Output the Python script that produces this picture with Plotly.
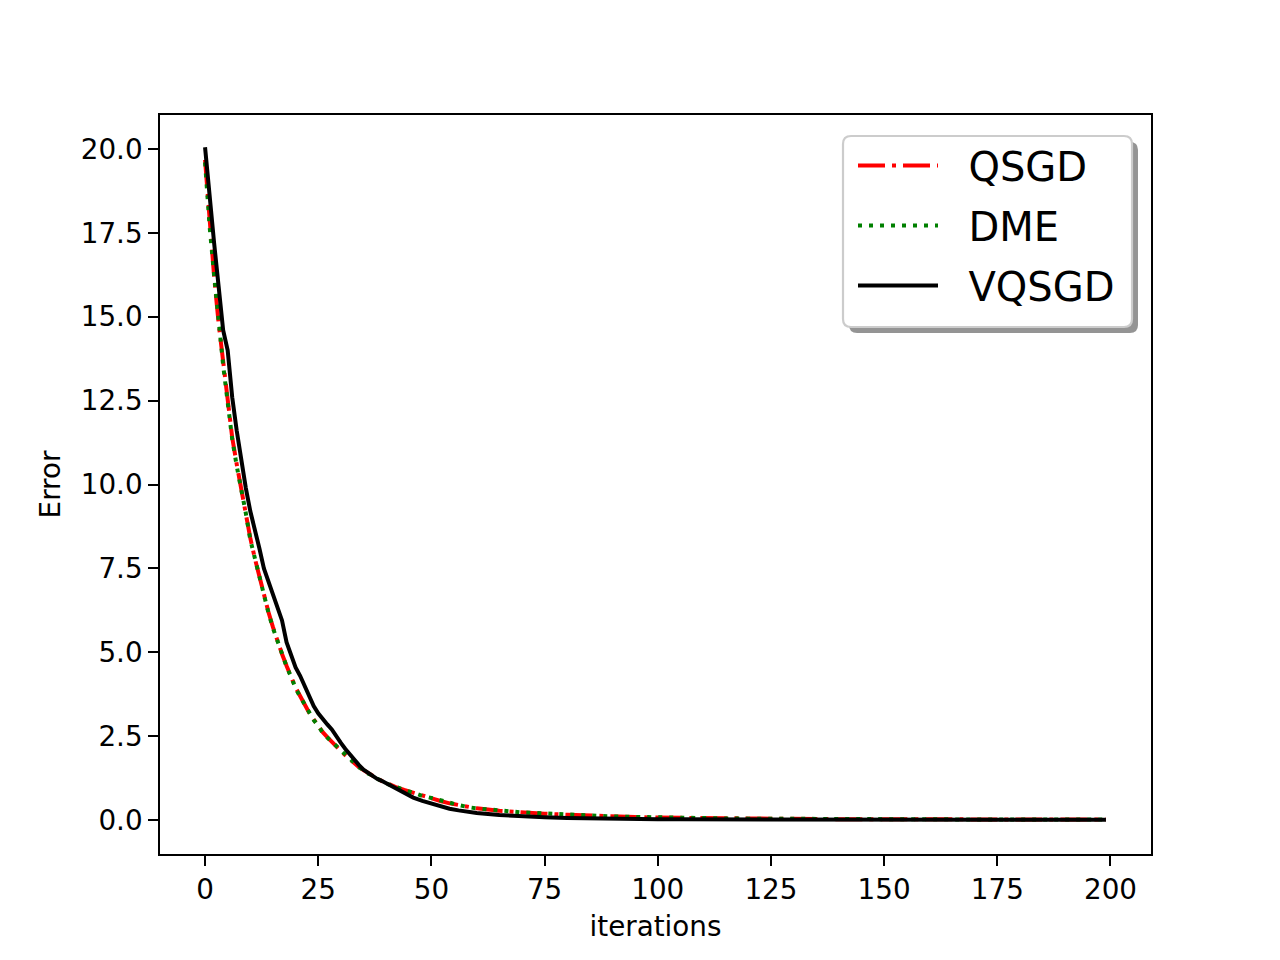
import plotly.graph_objects as go

# ---------------- data ----------------
iterations = list(range(0, 41)) + list(range(42, 61, 2)) + list(range(65, 196, 5)) + [199]

qsgd = [19.67, 17.8, 16.2, 14.8, 13.6, 12.4, 11.4, 10.6, 9.85, 9.1,
        8.4, 7.8, 7.25, 6.7, 6.2, 5.75, 5.3, 4.95, 4.6, 4.25,
        3.95, 3.7, 3.42, 3.2, 3.0, 2.8, 2.62, 2.47, 2.32, 2.2,
        2.06, 1.93, 1.8, 1.69, 1.58, 1.49, 1.40, 1.32, 1.24, 1.17, 1.10,
        0.99, 0.9, 0.81, 0.73, 0.65, 0.57, 0.5, 0.44, 0.39, 0.35,
        0.28, 0.23, 0.19, 0.16, 0.13, 0.11, 0.09, 0.075, 0.065, 0.056,
        0.049, 0.043, 0.038, 0.034, 0.031, 0.028, 0.026, 0.024, 0.022, 0.021,
        0.02, 0.019, 0.018, 0.017, 0.016, 0.016, 0.015,
        0.015]

dme = [19.6, 17.7, 16.25, 14.75, 13.55, 12.45, 11.35, 10.55, 9.9, 9.15,
       8.35, 7.8, 7.2, 6.72, 6.18, 5.72, 5.32, 4.92, 4.58, 4.27,
       3.93, 3.68, 3.44, 3.18, 2.98, 2.81, 2.6, 2.46, 2.33, 2.18,
       2.05, 1.94, 1.79, 1.7, 1.57, 1.5, 1.39, 1.33, 1.23, 1.17, 1.09,
       1.0, 0.89, 0.82, 0.72, 0.66, 0.58, 0.5, 0.45, 0.39, 0.35,
       0.29, 0.23, 0.2, 0.16, 0.13, 0.11, 0.095, 0.078, 0.066, 0.057,
       0.05, 0.044, 0.039, 0.035, 0.031, 0.029, 0.026, 0.024, 0.023, 0.021,
       0.02, 0.019, 0.018, 0.017, 0.017, 0.016, 0.015,
       0.015]

vqsgd = [20.05, 18.5, 17.2, 15.9, 14.6, 14.0, 12.6, 11.6, 10.7, 9.9,
         9.2, 8.7, 8.1, 7.5, 7.1, 6.7, 6.3, 5.95, 5.3, 4.9,
         4.55, 4.3, 4.0, 3.7, 3.4, 3.18, 3.0, 2.85, 2.7, 2.48,
         2.3, 2.12, 1.95, 1.8, 1.64, 1.5, 1.4, 1.3, 1.23, 1.17, 1.1,
         0.96, 0.8, 0.67, 0.57, 0.49, 0.41, 0.34, 0.29, 0.25, 0.21,
         0.15, 0.11, 0.085, 0.065, 0.05, 0.04, 0.032, 0.026, 0.022, 0.019,
         0.017, 0.015, 0.014, 0.013, 0.012, 0.011, 0.011, 0.010, 0.010, 0.009,
         0.009, 0.009, 0.008, 0.008, 0.008, 0.008, 0.007,
         0.007]

series_names = ["QSGD", "DME", "VQSGD"]
x_ticks = [0, 25, 50, 75, 100, 125, 150, 175, 200]
y_ticks = [0.0, 2.5, 5.0, 7.5, 10.0, 12.5, 15.0, 17.5, 20.0]

# ---------------- figure ----------------
W, H = 1280, 960
L, R, T, B = 160, 1151, 115, 854
FONT = "DejaVu Sans"
PAD = "\u00a0\u00a0"

fig = go.Figure()
fig.add_trace(go.Scatter(x=iterations, y=qsgd, mode="lines", name=PAD + series_names[0],
                         legendgroup="g1",
                         line=dict(color="#ff0000", width=4, dash="27px,7px,4px,7px")))
fig.add_trace(go.Scatter(x=iterations, y=dme, mode="lines", name=PAD + series_names[1],
                         legendgroup="g2",
                         line=dict(color="#008000", width=4, dash="4px,7px")))
fig.add_trace(go.Scatter(x=iterations, y=vqsgd, mode="lines", name=PAD + series_names[2],
                         legendgroup="g3",
                         line=dict(color="#000000", width=4)))


def px_x(p):
    return (p - L) / (R - L)


def px_y(p):
    return (B - p) / (B - T)


def rounded_rect(x0, y0, x1, y1, r):
    def P(x, y):
        return f"{px_x(x):.5f},{px_y(y):.5f}"
    return (f"M {P(x0 + r, y0)} L {P(x1 - r, y0)} Q {P(x1, y0)} {P(x1, y0 + r)} "
            f"L {P(x1, y1 - r)} Q {P(x1, y1)} {P(x1 - r, y1)} "
            f"L {P(x0 + r, y1)} Q {P(x0, y1)} {P(x0, y1 - r)} "
            f"L {P(x0, y0 + r)} Q {P(x0, y0)} {P(x0 + r, y0)} Z")


shapes = [
    dict(type="path", xref="paper", yref="paper", layer="above",
         path=rounded_rect(849, 142, 1138, 333, 8),
         fillcolor="rgba(0,0,0,0.42)", line=dict(width=0)),
    dict(type="path", xref="paper", yref="paper", layer="above",
         path=rounded_rect(843, 136, 1132, 327, 8),
         fillcolor="white", line=dict(color="#cccccc", width=2.2)),
]

fig.update_layout(
    width=W, height=H,
    margin=dict(l=L, r=W - R, t=T, b=H - B, pad=0),
    paper_bgcolor="white", plot_bgcolor="white",
    font=dict(family=FONT, size=27.8, color="black"),
    shapes=shapes,
    showlegend=True,
    legend=dict(x=px_x(853), y=px_y(133), xanchor="left", yanchor="top",
                bgcolor="rgba(0,0,0,0)", borderwidth=0,
                font=dict(family=FONT, size=40, color="black"),
                itemwidth=80, tracegroupgap=5),
    xaxis=dict(range=[-9.95, 208.95], tickmode="array", tickvals=x_ticks,
               ticktext=[str(v) for v in x_ticks],
               showgrid=False, zeroline=False, showline=True, mirror=True,
               linecolor="black", linewidth=2.2,
               ticks="outside", ticklen=9.7, tickwidth=2.2, tickcolor="black",
               title=dict(text="iterations", standoff=11,
                          font=dict(family=FONT, size=27.8))),
    yaxis=dict(range=[-1.01, 21.01], tickmode="array", tickvals=y_ticks,
               ticktext=[f"{v:.1f}" for v in y_ticks],
               showgrid=False, zeroline=False, showline=True, mirror=True,
               linecolor="black", linewidth=2.2,
               ticks="outside", ticklen=9.7, tickwidth=2.2, tickcolor="black",
               title=dict(text="Error", standoff=12,
                          font=dict(family=FONT, size=27.8))),
)

fig.write_html("out.html", config={"displayModeBar": False},
               post_script="document.body.style.margin='0';")
